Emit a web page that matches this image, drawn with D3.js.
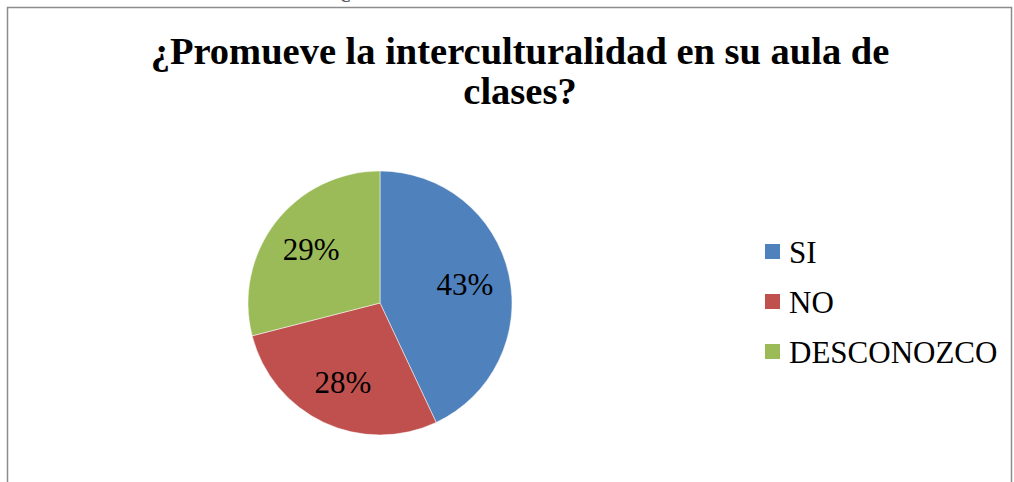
<!DOCTYPE html>
<html>
<head>
<meta charset="utf-8">
<script src="https://cdn.jsdelivr.net/npm/d3@7"></script>
<style>
  body { margin: 0; background: #fff; }
  svg { display: block; font-family: 'Liberation Serif', 'Times New Roman', serif; }
</style>
</head>
<body>
<svg id="chart" width="1014" height="482"></svg>
<script>
const categories = ['SI', 'NO', 'DESCONOZCO'];
const values = [43, 28, 29];
const labels = ['43%', '28%', '29%'];
const colors = ['#4F81BD', '#C0504D', '#9BBB59'];
const titleLines = ['¿Promueve la interculturalidad en su aula de', 'clases?'];
const caption = 'Gráfico N° 5: ¿Promueve la interculturalidad en su aula de clases?';

const svg = d3.select('#chart');

// caption of the page, mostly cut off above the chart frame
svg.append('text')
  .attr('x', 522).attr('y', -3)
  .attr('text-anchor', 'middle')
  .attr('font-size', 24)
  .attr('fill', '#555')
  .text(caption);

// chart frame
svg.append('rect')
  .attr('x', 7.5).attr('y', 7.5)
  .attr('width', 1004).attr('height', 490)
  .attr('fill', 'none')
  .attr('stroke', '#8c8c8c')
  .attr('stroke-width', 1.5);

svg.append('text')
  .attr('text-anchor', 'middle')
  .attr('font-size', 38.5)
  .attr('font-weight', 'bold')
  .selectAll('tspan')
  .data(titleLines)
  .join('tspan')
  .attr('x', 520)
  .attr('y', (d, i) => 64 + i * 40)
  .text(d => d);

const r = 132;
const g = svg.append('g').attr('transform', 'translate(380,303)');

const pie = d3.pie().sort(null).value(d => d);
const arc = d3.arc().innerRadius(0).outerRadius(r);
const labelArc = d3.arc().innerRadius(0).outerRadius(r * 1.32);

const arcs = pie(values);

g.selectAll('path')
  .data(arcs)
  .join('path')
  .attr('d', arc)
  .attr('fill', (d, i) => colors[i])
  .attr('stroke', '#fff')
  .attr('stroke-width', 0.5);

g.selectAll('.lbl')
  .data(arcs)
  .join('text')
  .attr('class', 'lbl')
  .attr('transform', d => `translate(${labelArc.centroid(d)})`)
  .attr('text-anchor', 'middle')
  .attr('dy', '0.35em')
  .attr('font-size', 31)
  .text((d, i) => labels[i]);

const legend = svg.append('g').attr('transform', 'translate(765,244)');
const item = legend.selectAll('g')
  .data(categories)
  .join('g')
  .attr('transform', (d, i) => `translate(0,${i * 50})`);

item.append('rect')
  .attr('width', 15).attr('height', 15)
  .attr('fill', (d, i) => colors[i]);

item.append('text')
  .attr('x', 24).attr('y', 18.5)
  .attr('font-size', 31)
  .text(d => d);
</script>
</body>
</html>
